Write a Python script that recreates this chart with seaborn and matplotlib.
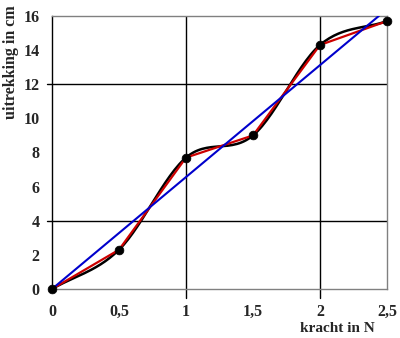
import numpy as np
import pandas as pd
import matplotlib
matplotlib.use('Agg')
import matplotlib.pyplot as plt
import seaborn as sns

# measured values
kracht = [0, 0.5, 1, 1.5, 2, 2.5]
uitrekking = [0, 2.3, 7.7, 9.0, 14.3, 15.7]
x_labels = ['0', '0,5', '1', '1,5', '2', '2,5']
y_ticks = [0, 2, 4, 6, 8, 10, 12, 14, 16]

df = pd.DataFrame({'kracht': kracht, 'uitrekking': uitrekking})


def catmull_rom(x, y, n=30):
    """Smooth line through the points (like a spreadsheet 'smoothed line')"""
    x = np.asarray(x, float)
    y = np.asarray(y, float)
    px = np.concatenate([[2 * x[0] - x[1]], x, [2 * x[-1] - x[-2]]])
    py = np.concatenate([[2 * y[0] - y[1]], y, [2 * y[-1] - y[-2]]])
    xs, ys = [], []
    t = np.linspace(0, 1, n)
    for i in range(1, len(px) - 2):
        for p, out in ((px, xs), (py, ys)):
            p0, p1, p2, p3 = p[i - 1], p[i], p[i + 1], p[i + 2]
            m1 = (p2 - p0) / 2
            m2 = (p3 - p1) / 2
            h = (2 * t**3 - 3 * t**2 + 1) * p1 + (t**3 - 2 * t**2 + t) * m1 \
                + (-2 * t**3 + 3 * t**2) * p2 + (t**3 - t**2) * m2
            out.extend(h)
    return np.array(xs), np.array(ys)


sns.set_style('white')
plt.rcParams['font.family'] = ['Liberation Serif', 'DejaVu Serif']
plt.rcParams['font.weight'] = 'bold'

fig = plt.figure(figsize=(4.0, 3.38), dpi=100)
ax = fig.add_axes([0.13, 0.145, 0.8375, 0.8077])

# grid lines (only at 1, 2 and 4, 12)
for gx in [1, 2]:
    ax.axvline(gx, color='black', lw=1.0, zorder=1)
    ax.plot([gx, gx], [-0.5, 0], color='black', lw=1.0, clip_on=False)
for gy in [4, 12]:
    ax.axhline(gy, color='black', lw=1.0, zorder=1)
    ax.plot([-0.04, 0], [gy, gy], color='black', lw=1.0, clip_on=False)

# smooth curve
sx, sy = catmull_rom(kracht, uitrekking)
ax.plot(sx, sy, color='black', lw=1.8, zorder=2)

# straight segments
sns.lineplot(data=df, x='kracht', y='uitrekking', color='#cc0000', lw=1.6,
             ax=ax, zorder=3)

# best fit through origin
slope = np.sum(np.array(kracht) * np.array(uitrekking)) / np.sum(np.array(kracht) ** 2)
fx = np.array([0, 16 / slope])
ax.plot(fx, slope * fx, color='#0000cc', lw=1.5, zorder=4)

sns.scatterplot(data=df, x='kracht', y='uitrekking', color='black', s=40,
                edgecolor='black', ax=ax, zorder=5, clip_on=False)

ax.set_xlim(0, 2.5)
ax.set_ylim(0, 16)
ax.set_xticks(kracht)
ax.set_xticklabels(x_labels)
ax.set_yticks(y_ticks)
ax.tick_params(length=0, labelsize=11.5)
ax.tick_params(axis='x', pad=11)
ax.tick_params(axis='y', pad=9)
for lab in ax.get_xticklabels() + ax.get_yticklabels():
    lab.set_fontweight('bold')

ax.set_xlabel('')
ax.set_ylabel('')
fig.text(0.028, 0.985, 'uitrekking in cm', rotation=90, ha='center', va='top',
         fontsize=11.5, fontweight='bold')
fig.text(0.843, 0.008, 'kracht in N', ha='center', va='bottom',
         fontsize=11, fontweight='bold')

for side in ['top', 'right', 'bottom']:
    ax.spines[side].set_color('#808080')
    ax.spines[side].set_linewidth(1.0)
ax.spines['left'].set_color('black')
ax.spines['left'].set_linewidth(1.0)

fig.savefig('out.png', dpi=100)
